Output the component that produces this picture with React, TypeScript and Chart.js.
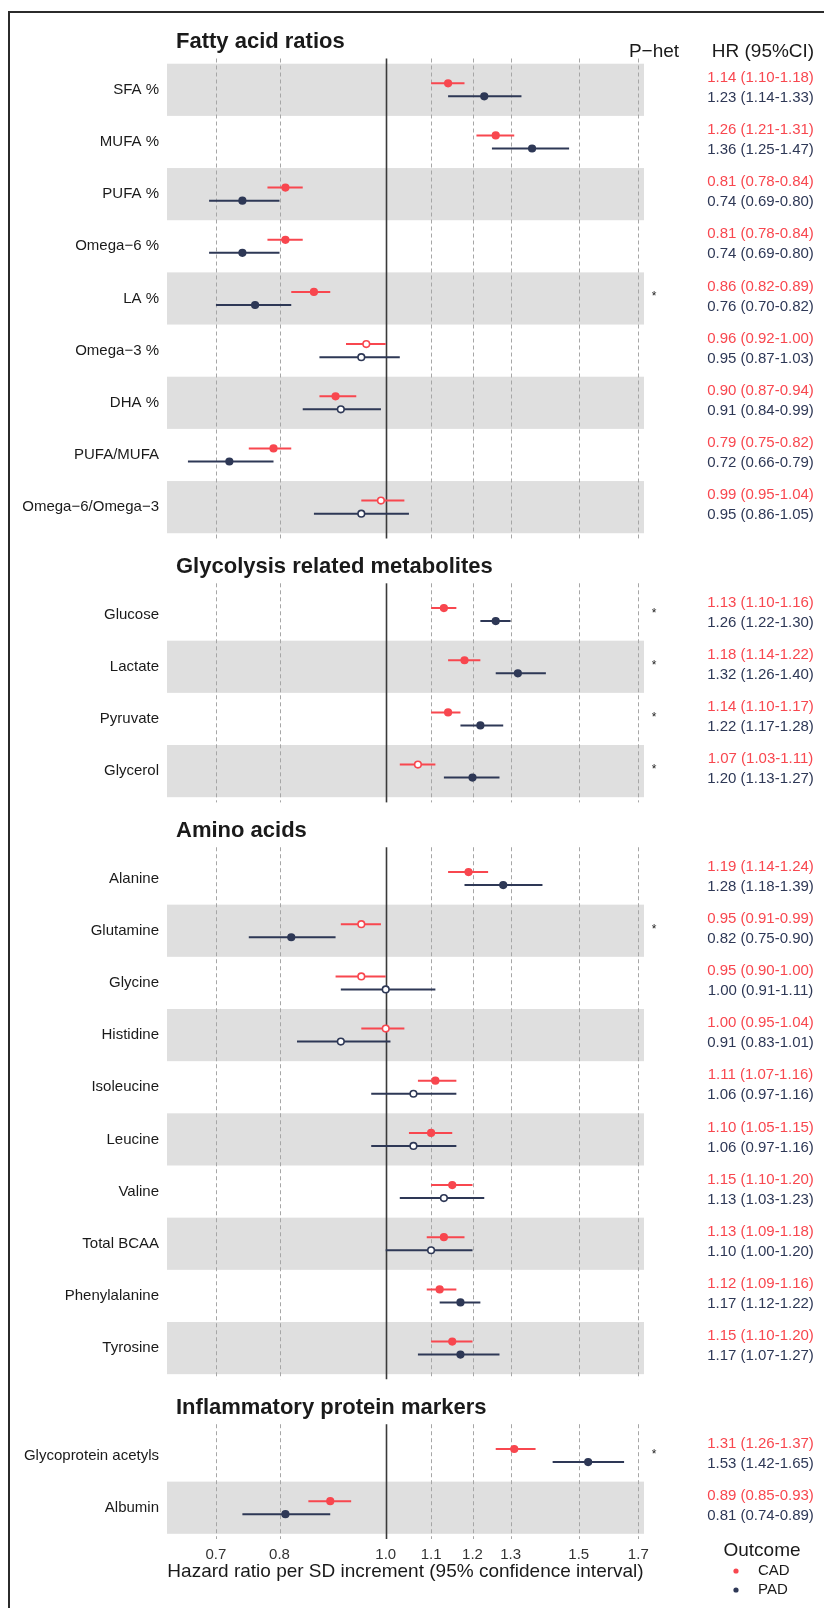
import React, { useEffect, useRef } from 'react';
import { Chart, registerables } from 'chart.js';

Chart.register(...registerables);

const FONT = "'Liberation Sans', Arial, Helvetica, sans-serif";
const RED = '#F8474F';
const NAVY = '#2E3856';

// ---------- data ----------
const sectionTitles = ['Fatty acid ratios', 'Glycolysis related metabolites', 'Amino acids', 'Inflammatory protein markers'];

const faLabels = ['SFA %', 'MUFA %', 'PUFA %', 'Omega\u22126 %', 'LA %', 'Omega\u22123 %', 'DHA %', 'PUFA/MUFA', 'Omega\u22126/Omega\u22123'];
const faCAD = [1.14, 1.26, 0.81, 0.81, 0.86, 0.96, 0.90, 0.79, 0.99];
const faCADlo = [1.10, 1.21, 0.78, 0.78, 0.82, 0.92, 0.87, 0.75, 0.95];
const faCADhi = [1.18, 1.31, 0.84, 0.84, 0.89, 1.00, 0.94, 0.82, 1.04];
const faPAD = [1.23, 1.36, 0.74, 0.74, 0.76, 0.95, 0.91, 0.72, 0.95];
const faPADlo = [1.14, 1.25, 0.69, 0.69, 0.70, 0.87, 0.84, 0.66, 0.86];
const faPADhi = [1.33, 1.47, 0.80, 0.80, 0.82, 1.03, 0.99, 0.79, 1.05];
const faCADsig = [1, 1, 1, 1, 1, 0, 1, 1, 0];
const faPADsig = [1, 1, 1, 1, 1, 0, 0, 1, 0];
const faPhet = [0, 0, 0, 0, 1, 0, 0, 0, 0];

const glLabels = ['Glucose', 'Lactate', 'Pyruvate', 'Glycerol'];
const glCAD = [1.13, 1.18, 1.14, 1.07];
const glCADlo = [1.10, 1.14, 1.10, 1.03];
const glCADhi = [1.16, 1.22, 1.17, 1.11];
const glPAD = [1.26, 1.32, 1.22, 1.20];
const glPADlo = [1.22, 1.26, 1.17, 1.13];
const glPADhi = [1.30, 1.40, 1.28, 1.27];
const glCADsig = [1, 1, 1, 0];
const glPADsig = [1, 1, 1, 1];
const glPhet = [1, 1, 1, 1];

const aaLabels = ['Alanine', 'Glutamine', 'Glycine', 'Histidine', 'Isoleucine', 'Leucine', 'Valine', 'Total BCAA', 'Phenylalanine', 'Tyrosine'];
const aaCAD = [1.19, 0.95, 0.95, 1.00, 1.11, 1.10, 1.15, 1.13, 1.12, 1.15];
const aaCADlo = [1.14, 0.91, 0.90, 0.95, 1.07, 1.05, 1.10, 1.09, 1.09, 1.10];
const aaCADhi = [1.24, 0.99, 1.00, 1.04, 1.16, 1.15, 1.20, 1.18, 1.16, 1.20];
const aaPAD = [1.28, 0.82, 1.00, 0.91, 1.06, 1.06, 1.13, 1.10, 1.17, 1.17];
const aaPADlo = [1.18, 0.75, 0.91, 0.83, 0.97, 0.97, 1.03, 1.00, 1.12, 1.07];
const aaPADhi = [1.39, 0.90, 1.11, 1.01, 1.16, 1.16, 1.23, 1.20, 1.22, 1.27];
const aaCADsig = [1, 0, 0, 0, 1, 1, 1, 1, 1, 1];
const aaPADsig = [1, 1, 0, 0, 0, 0, 0, 0, 1, 1];
const aaPhet = [0, 1, 0, 0, 0, 0, 0, 0, 0, 0];

const ipLabels = ['Glycoprotein acetyls', 'Albumin'];
const ipCAD = [1.31, 0.89];
const ipCADlo = [1.26, 0.85];
const ipCADhi = [1.37, 0.93];
const ipPAD = [1.53, 0.81];
const ipPADlo = [1.42, 0.74];
const ipPADhi = [1.65, 0.89];
const ipCADsig = [1, 1];
const ipPADsig = [1, 1];
const ipPhet = [1, 0];

const xTicks = [0.7, 0.8, 1.0, 1.1, 1.2, 1.3, 1.5, 1.7];
const xMin = 0.6316;
const xMax = 1.7205;
const xTitle = 'Hazard ratio per SD increment (95% confidence interval)';
const outcomes = ['CAD', 'PAD'];

// ---------- build rows ----------
type Row = {
  label: string; pos: number; grey: boolean;
  cad: number; cadLo: number; cadHi: number; pad: number; padLo: number; padHi: number;
  cadSig: number; padSig: number; phet: number;
};

const rawSections = [
  [faLabels, faCAD, faCADlo, faCADhi, faPAD, faPADlo, faPADhi, faCADsig, faPADsig, faPhet],
  [glLabels, glCAD, glCADlo, glCADhi, glPAD, glPADlo, glPADhi, glCADsig, glPADsig, glPhet],
  [aaLabels, aaCAD, aaCADlo, aaCADhi, aaPAD, aaPADlo, aaPADhi, aaCADsig, aaPADsig, aaPhet],
  [ipLabels, ipCAD, ipCADlo, ipCADhi, ipPAD, ipPADlo, ipPADhi, ipCADsig, ipPADsig, ipPhet],
] as any[];

const PADU = 0.1;
const GAPU = 0.86;
const DODGE = 0.125;

const rows: Row[] = [];
const sectionBounds: { top: number; bottom: number }[] = [];
let cursor = 0;
rawSections.forEach((s) => {
  const [labels, c, cl, ch, p, pl, ph, cs, ps, ph2] = s;
  const n = labels.length;
  const top = cursor;
  labels.forEach((lab: string, i: number) => {
    rows.push({
      label: lab, pos: top + PADU + i + 0.5, grey: (n - 1 - i) % 2 === 0,
      cad: c[i], cadLo: cl[i], cadHi: ch[i], pad: p[i], padLo: pl[i], padHi: ph[i],
      cadSig: cs[i], padSig: ps[i], phet: ph2[i],
    });
  });
  const bottom = top + 2 * PADU + n;
  sectionBounds.push({ top, bottom });
  cursor = bottom + GAPU;
});
const yMax = sectionBounds[sectionBounds.length - 1].bottom;

const fmt = (v: number, lo: number, hi: number) => `${v.toFixed(2)} (${lo.toFixed(2)}-${hi.toFixed(2)})`;

const ciData = (key: 'cad' | 'pad', off: number) => {
  const out: any[] = [];
  rows.forEach((r) => {
    const lo = key === 'cad' ? r.cadLo : r.padLo;
    const hi = key === 'cad' ? r.cadHi : r.padHi;
    out.push({ x: lo, y: r.pos + off }, { x: hi, y: r.pos + off }, { x: hi, y: null });
  });
  return out;
};

// ---------- plugins ----------
const backgroundPlugin = {
  id: 'bgPanels',
  beforeDatasetsDraw(chart: any) {
    const { ctx, chartArea, scales } = chart;
    const x = scales.x;
    const y = scales.y;
    ctx.save();
    ctx.fillStyle = '#DFDFDF';
    rows.forEach((r) => {
      if (!r.grey) return;
      const y0 = y.getPixelForValue(r.pos - 0.5);
      const y1 = y.getPixelForValue(r.pos + 0.5);
      ctx.fillRect(chartArea.left, y0, chartArea.right - chartArea.left, y1 - y0);
    });
    sectionBounds.forEach((b) => {
      const y0 = y.getPixelForValue(b.top);
      const y1 = y.getPixelForValue(b.bottom);
      xTicks.forEach((t) => {
        const px = Math.round(x.getPixelForValue(t)) + 0.5;
        ctx.beginPath();
        if (t === 1.0) {
          ctx.setLineDash([]);
          ctx.strokeStyle = '#3A3A3A';
          ctx.lineWidth = 1.6;
        } else {
          ctx.setLineDash([4, 3]);
          ctx.strokeStyle = '#A6A6A6';
          ctx.lineWidth = 1;
        }
        ctx.moveTo(px, y0);
        ctx.lineTo(px, y1);
        ctx.stroke();
      });
    });
    ctx.restore();
  },
};

const textPlugin = {
  id: 'texts',
  afterDraw(chart: any) {
    const { ctx, scales } = chart;
    const y = scales.y;
    ctx.save();
    // section titles
    ctx.fillStyle = '#1A1A1A';
    ctx.textBaseline = 'middle';
    ctx.textAlign = 'left';
    ctx.font = `bold 22px ${FONT}`;
    sectionBounds.forEach((b, i) => {
      ctx.fillText(sectionTitles[i], 176, y.getPixelForValue(b.top) - 16.5);
    });
    // headers
    const hy = y.getPixelForValue(sectionBounds[0].top) - 6.5;
    ctx.font = `19px ${FONT}`;
    ctx.textAlign = 'center';
    ctx.fillText('P\u2212het', 654, hy);
    ctx.fillText('HR (95%CI)', 763, hy);
    // HR texts + stars
    ctx.font = `15px ${FONT}`;
    rows.forEach((r) => {
      const cy = y.getPixelForValue(r.pos);
      ctx.textBaseline = 'middle';
      ctx.textAlign = 'center';
      ctx.fillStyle = RED;
      ctx.fillText(fmt(r.cad, r.cadLo, r.cadHi), 760.5, cy - 12);
      ctx.fillStyle = NAVY;
      ctx.fillText(fmt(r.pad, r.padLo, r.padHi), 760.5, cy + 8);
      if (r.phet) {
        ctx.fillStyle = '#1A1A1A';
        ctx.font = `12px ${FONT}`;
        ctx.textBaseline = 'alphabetic';
        ctx.fillText('*', 654, cy + 2);
        ctx.font = `15px ${FONT}`;
      }
    });
    // legend
    ctx.fillStyle = '#1A1A1A';
    ctx.textBaseline = 'middle';
    ctx.textAlign = 'center';
    ctx.font = `19px ${FONT}`;
    ctx.fillText('Outcome', 762, 1551);
    ctx.font = `15px ${FONT}`;
    ctx.textAlign = 'left';
    [RED, NAVY].forEach((col, i) => {
      const ly = 1571 + i * 19;
      ctx.fillStyle = col;
      ctx.beginPath();
      ctx.arc(736, ly, 2.6, 0, Math.PI * 2);
      ctx.fill();
      ctx.fillStyle = '#1A1A1A';
      ctx.fillText(outcomes[i], 758, ly);
    });
    // frame
    ctx.strokeStyle = '#2B2B2B';
    ctx.lineWidth = 2;
    ctx.beginPath();
    ctx.moveTo(9, 1608);
    ctx.lineTo(9, 12);
    ctx.lineTo(824, 12);
    ctx.stroke();
    ctx.restore();
  },
};

export default function App() {
  const ref = useRef<HTMLCanvasElement | null>(null);
  useEffect(() => {
    if (!ref.current) return;
    const chart = new Chart(ref.current, {
      type: 'scatter',
      data: {
        datasets: [
          {
            label: 'CAD',
            data: rows.map((r) => ({ x: r.cad, y: r.pos - DODGE })),
            pointRadius: 3.3,
            pointBorderWidth: 1.6,
            pointBackgroundColor: rows.map((r) => (r.cadSig ? RED : '#FFFFFF')),
            pointBorderColor: RED,
            showLine: false,
            order: 0,
          },
          {
            label: 'PAD',
            data: rows.map((r) => ({ x: r.pad, y: r.pos + DODGE })),
            pointRadius: 3.3,
            pointBorderWidth: 1.6,
            pointBackgroundColor: rows.map((r) => (r.padSig ? NAVY : '#FFFFFF')),
            pointBorderColor: NAVY,
            showLine: false,
            order: 0,
          },
          {
            label: 'CAD CI',
            data: ciData('cad', -DODGE),
            showLine: true,
            spanGaps: false,
            borderColor: RED,
            borderWidth: 2,
            pointRadius: 0,
            order: 1,
          },
          {
            label: 'PAD CI',
            data: ciData('pad', DODGE),
            showLine: true,
            spanGaps: false,
            borderColor: NAVY,
            borderWidth: 2,
            pointRadius: 0,
            order: 1,
          },
        ],
      } as any,
      options: {
        responsive: false,
        animation: false,
        devicePixelRatio: 1,
        layout: { padding: { left: 0, right: 180, top: 58.5, bottom: 0 } },
        plugins: { legend: { display: false }, tooltip: { enabled: false } },
        scales: {
          x: {
            type: 'logarithmic',
            position: 'bottom',
            bounds: 'data',
            min: xMin,
            max: xMax,
            grid: { display: false, drawTicks: false },
            border: { display: false },
            afterBuildTicks: (s: any) => { s.ticks = xTicks.map((v) => ({ value: v })); },
            afterFit: (s: any) => { s.height = 69; s.paddingLeft = 0; s.paddingRight = 0; },
            ticks: {
              autoSkip: false,
              maxRotation: 0,
              padding: 7,
              color: '#333333',
              font: { family: FONT, size: 15 },
              callback: (v: any) => Number(v).toFixed(1),
            },
            title: {
              display: true,
              text: xTitle,
              color: '#1A1A1A',
              font: { family: FONT, size: 19 },
              padding: { top: 0, bottom: 24.6 },
            },
          },
          y: {
            type: 'linear',
            position: 'left',
            bounds: 'data',
            min: 0,
            max: yMax,
            reverse: true,
            grid: { display: false, drawTicks: false },
            border: { display: false },
            afterBuildTicks: (s: any) => { s.ticks = rows.map((r) => ({ value: r.pos })); },
            afterFit: (s: any) => { s.width = 167; s.paddingTop = 0; s.paddingBottom = 0; },
            ticks: {
              autoSkip: false,
              padding: 8,
              color: '#1A1A1A',
              font: { family: FONT, size: 15 },
              callback: (_v: any, i: number) => rows[i].label,
            },
          },
        },
      } as any,
      plugins: [backgroundPlugin, textPlugin],
    });
    return () => chart.destroy();
  }, []);
  return (
    <div style={{ position: 'absolute', left: 0, top: 0, width: 824, height: 1608, background: '#FFFFFF' }}>
      <canvas ref={ref} width={824} height={1608} style={{ display: 'block', width: 824, height: 1608 }} />
    </div>
  );
}
